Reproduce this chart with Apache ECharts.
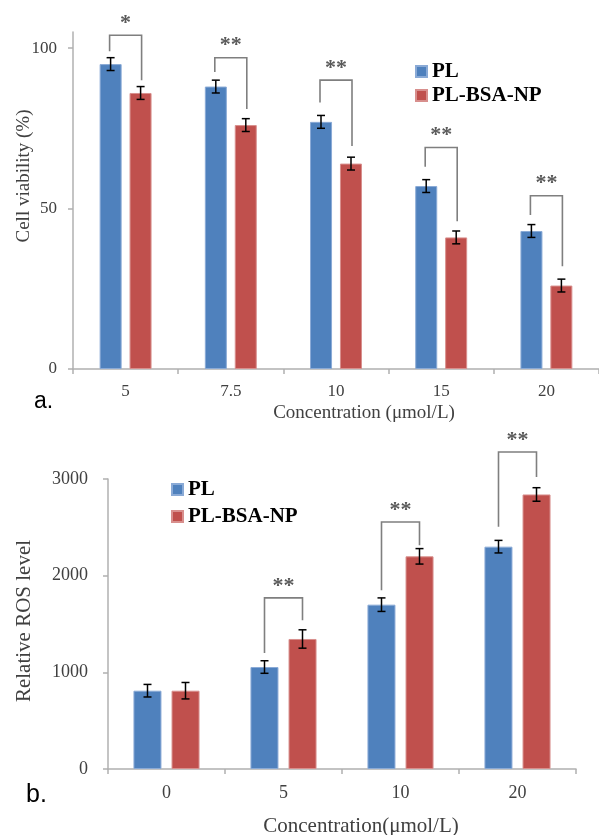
<!DOCTYPE html>
<html><head><meta charset="utf-8">
<script src="https://cdn.jsdelivr.net/npm/echarts@6/dist/echarts.min.js"></script>
<style>html,body{margin:0;padding:0;background:#fff}#c{width:599px;height:835px}</style>
</head><body><div id="c"></div>
<script>
// ---- Panel a: cell viability ----
const catsA = ['5', '7.5', '10', '15', '20'];
const plA = [95, 88, 77, 57, 43];
const npA = [86, 76, 64, 41, 26];
const plErrA = [2, 2, 2, 2, 2];
const npErrA = [2, 2, 2, 2, 2];
const sigA = ['*', '**', '**', '**', '**'];
const brTopA = [104, 97, 90, 69, 54];
const brLeftA = [99, 92.5, 83, 63, 48];
const brRightA = [90, 81, 69.5, 46, 32];
const yTicksA = [0, 50, 100];

// ---- Panel b: relative ROS level ----
const catsB = ['0', '5', '10', '20'];
const plB = [810, 1055, 1700, 2300];
const npB = [810, 1345, 2200, 2840];
const plErrB = [65, 65, 70, 65];
const npErrB = [85, 95, 80, 70];
const sigB = ['', '**', '**', '**'];
const brTopB = [null, 1770, 2555, 3280];
const brLeftB = [null, 1200, 1850, 2505];
const brRightB = [null, 1540, 2315, 3020];
const yTicksB = [0, 1000, 2000, 3000];

const BLUE = '#4F81BD', RED = '#C0504D';
const SERIF = '"Liberation Serif", "Times New Roman", serif';
const AXIS_COL = '#b0b0b0';
const LABEL_COL = '#404040';

function errSeries(name, grid, vals, errs, off) {
  return {
    type: 'custom', name: name + '_err', xAxisIndex: grid, yAxisIndex: grid, z: 5, clip: false,
    silent: true,
    data: vals.map((v, i) => [i, v, errs[i]]),
    renderItem: function (params, api) {
      const i = api.value(0), v = api.value(1), e = api.value(2);
      const x = api.coord([i, v])[0] + off;
      const yt = api.coord([i, v + e])[1];
      const yb = api.coord([i, v - e])[1];
      const st = { stroke: '#000', lineWidth: 1.5 };
      return { type: 'group', children: [
        { type: 'line', shape: { x1: x, y1: yt, x2: x, y2: yb }, style: st },
        { type: 'line', shape: { x1: x - 4, y1: yt, x2: x + 4, y2: yt }, style: st },
        { type: 'line', shape: { x1: x - 4, y1: yb, x2: x + 4, y2: yb }, style: st }
      ]};
    }
  };
}

function bracketSeries(grid, tops, lefts, rights, sigs, off) {
  const data = [];
  tops.forEach((t, i) => { if (t != null) data.push([i, t, lefts[i], rights[i]]); });
  return {
    type: 'custom', name: 'sig' + grid, xAxisIndex: grid, yAxisIndex: grid, z: 6, clip: false,
    silent: true,
    data: data,
    renderItem: function (params, api) {
      const i = api.value(0);
      const cx = api.coord([i, 0])[0];
      const xl = cx - off, xr = cx + off;
      const yt = api.coord([i, api.value(1)])[1];
      const yl = api.coord([i, api.value(2)])[1];
      const yr = api.coord([i, api.value(3)])[1];
      return { type: 'group', children: [
        { type: 'polyline', shape: { points: [[xl, yl], [xl, yt], [xr, yt], [xr, yr]] },
          style: { stroke: '#7f7f7f', lineWidth: 1.6, fill: null } },
        { type: 'text', x: cx, y: yt - 1,
          style: { text: sigs[i], font: 'bold 22px ' + SERIF, fill: '#5a5a5a',
                   align: 'center', verticalAlign: 'bottom', textAlign: 'center', textVerticalAlign: 'bottom' } }
      ]};
    }
  };
}

function legendCfg(left, top, gap) {
  return {
    data: ['PL', 'PL-BSA-NP'], orient: 'vertical', left: left, top: top,
    icon: 'rect', itemWidth: 11, itemHeight: 11, itemGap: gap, selectedMode: false,
    textStyle: { fontFamily: SERIF, fontWeight: 'bold', fontSize: 21, lineHeight: 21, color: '#000', padding: [0, 0, 0, 0] },
    padding: 0
  };
}

function catAxis(grid, data, size, margin) {
  return {
    type: 'category', gridIndex: grid, data: data,
    axisLine: { lineStyle: { color: AXIS_COL, width: 1.5 } },
    axisTick: { show: true, length: 5, lineStyle: { color: AXIS_COL, width: 1.5 } },
    axisLabel: { fontFamily: SERIF, fontSize: size, color: LABEL_COL, margin: margin },
    splitLine: { show: false }
  };
}

function valAxis(grid, max, interval, ticks, size, margin) {
  return {
    type: 'value', gridIndex: grid, min: 0, max: max, interval: interval,
    axisLine: { show: true, lineStyle: { color: AXIS_COL, width: 1.5 } },
    axisTick: { show: true, length: 5, lineStyle: { color: AXIS_COL, width: 1.5 }, customValues: ticks },
    axisLabel: { fontFamily: SERIF, fontSize: size, color: LABEL_COL, margin: margin, customValues: ticks,
                 formatter: function (v) { return String(v); } },
    splitLine: { show: false }
  };
}

function txt(text, x, y, size, rot, family, col, align) {
  return { type: 'text', x: x, y: y, rotation: rot || 0, silent: true,
    style: { text: text, font: size + 'px ' + (family || SERIF), fill: col || LABEL_COL,
      align: align || 'center', verticalAlign: 'middle', textAlign: align || 'center', textVerticalAlign: 'middle' } };
}

const chart = echarts.init(document.getElementById('c'), null, { renderer: 'canvas' });
chart.setOption({
  animation: false,
  backgroundColor: '#fff',
  grid: [
    { left: 73, top: 32, width: 527, height: 337 },
    { left: 108, top: 479, width: 468, height: 290 }
  ],
  legend: [legendCfg(415, 61, 3), legendCfg(171, 479, 6)],
  xAxis: [catAxis(0, catsA, 17, 14), catAxis(1, catsB, 18, 15)],
  yAxis: [valAxis(0, 105, 50, yTicksA, 17, 16), valAxis(1, 3000, 1000, yTicksB, 18, 20)],
  series: [
    { type: 'bar', name: 'PL', xAxisIndex: 0, yAxisIndex: 0, data: plA, barWidth: 22, barGap: '36%',
      itemStyle: { color: BLUE, borderColor: '#8aaad6', borderWidth: 1 } },
    { type: 'bar', name: 'PL-BSA-NP', xAxisIndex: 0, yAxisIndex: 0, data: npA, barWidth: 22, barGap: '36%',
      itemStyle: { color: RED, borderColor: '#d88f8d', borderWidth: 1 } },
    { type: 'bar', name: 'PL', xAxisIndex: 1, yAxisIndex: 1, data: plB, barWidth: 28, barGap: '36%',
      itemStyle: { color: BLUE, borderColor: '#8aaad6', borderWidth: 1 } },
    { type: 'bar', name: 'PL-BSA-NP', xAxisIndex: 1, yAxisIndex: 1, data: npB, barWidth: 28, barGap: '36%',
      itemStyle: { color: RED, borderColor: '#d88f8d', borderWidth: 1 } },
    errSeries('PL_a', 0, plA, plErrA, -15),
    errSeries('NP_a', 0, npA, npErrA, 15),
    errSeries('PL_b', 1, plB, plErrB, -19),
    errSeries('NP_b', 1, npB, npErrB, 19),
    bracketSeries(0, brTopA, brLeftA, brRightA, sigA, 16),
    bracketSeries(1, brTopB, brLeftB, brRightB, sigB, 19)
  ],
  graphic: { elements: [
    txt('Cell viability (%)', 24, 176, 19, Math.PI / 2),
    txt('Concentration (\u03bcmol/L)', 364, 413, 19),
    txt('a.', 34, 402, 23, 0, '"Liberation Sans", Arial, sans-serif', '#000', 'left'),
    txt('Relative ROS level', 24, 621, 21, Math.PI / 2),
    txt('Concentration(\u03bcmol/L)', 361, 826, 21),
    txt('b.', 26, 795, 25, 0, '"Liberation Sans", Arial, sans-serif', '#000', 'left')
  ]}
});
</script>
</body></html>
